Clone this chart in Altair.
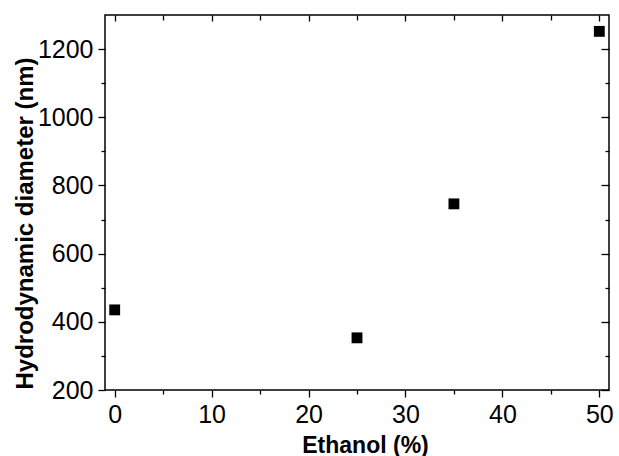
import altair as alt
import pandas as pd

# Measured hydrodynamic diameter versus ethanol content
ethanol_pct = [0, 25, 35, 50]
hydro_diameter_nm = [435, 353, 746, 1252]

# Tick positions (major ticks carry labels, minor ticks in between)
x_major = [0, 10, 20, 30, 40, 50]
x_minor = [5, 15, 25, 35, 45]
y_major = [200, 400, 600, 800, 1000, 1200]
y_minor = [300, 500, 700, 900, 1100]

df = pd.DataFrame({"ethanol": ethanol_pct, "diameter": hydro_diameter_nm})

FONT = "Liberation Sans"

x_scale = alt.Scale(domain=[-1, 51], nice=False, zero=False)
y_scale = alt.Scale(domain=[200, 1300], nice=False, zero=False)

base = alt.Chart(df)

# Mirrored ticks on the top and right edges, pointing into the frame
inner_major = base.mark_point(opacity=0).encode(
    x=alt.X("ethanol:Q", scale=x_scale,
            axis=alt.Axis(orient="top", values=x_major, labels=False, domain=False,
                          grid=False, tickSize=6, offset=-6, title=None)),
    y=alt.Y("diameter:Q", scale=y_scale,
            axis=alt.Axis(orient="right", values=y_major, labels=False, domain=False,
                          grid=False, tickSize=8, offset=-8, title=None)),
)
inner_minor = base.mark_point(opacity=0).encode(
    x=alt.X("ethanol:Q", scale=x_scale,
            axis=alt.Axis(orient="top", values=x_minor, labels=False, domain=False,
                          grid=False, tickSize=5, offset=-5, title=None)),
    y=alt.Y("diameter:Q", scale=y_scale,
            axis=alt.Axis(orient="right", values=y_minor, labels=False, domain=False,
                          grid=False, tickSize=4, offset=-4, title=None)),
)

points = base.mark_point(shape="square", filled=True, size=118, color="black",
                         opacity=1, strokeWidth=0).encode(
    x=alt.X("ethanol:Q", scale=x_scale,
            axis=alt.Axis(
                orient="bottom", values=sorted(x_major + x_minor), format="d",
                labelExpr="datum.value % 10 === 0 ? datum.label : ''",
                tickSize={"condition": {"test": "datum.value % 10 === 0", "value": 7}, "value": 4},
                labelPadding=5, domain=False, grid=False,
                title="Ethanol (%)", titleFont=FONT, titleFontSize=23,
                titleFontWeight="bold", titleX=260, titleY=62,
                titleAlign="center", titleBaseline="alphabetic")),
    y=alt.Y("diameter:Q", scale=y_scale,
            axis=alt.Axis(
                orient="left", values=sorted(y_major + y_minor), format="d",
                labelExpr="datum.value % 200 === 0 ? datum.label : ''",
                tickSize={"condition": {"test": "datum.value % 200 === 0", "value": 7}, "value": 4},
                labelPadding=5, domain=False, grid=False,
                title="Hydrodynamic diameter (nm)", titleFont=FONT, titleFontSize=24,
                titleFontWeight="bold", titleAngle=-90, titleX=-73, titleY=208,
                titleAlign="center", titleBaseline="alphabetic")),
)

chart = (
    alt.layer(inner_major, inner_minor, points)
    .resolve_axis(x="independent", y="independent")
    .properties(width=504, height=375, autosize="none", background="white",
                padding={"left": 105, "top": 15, "right": 10, "bottom": 66})
    .configure_view(stroke="black", strokeWidth=1.5)
    .configure_axis(labelFont=FONT, labelFontSize=25, labelColor="black",
                    tickColor="black", tickWidth=1.3, titleColor="black",
                    labelOverlap=False, labelFlush=False)
)

chart.save("out.html", embed_options={"renderer": "svg", "actions": False})
